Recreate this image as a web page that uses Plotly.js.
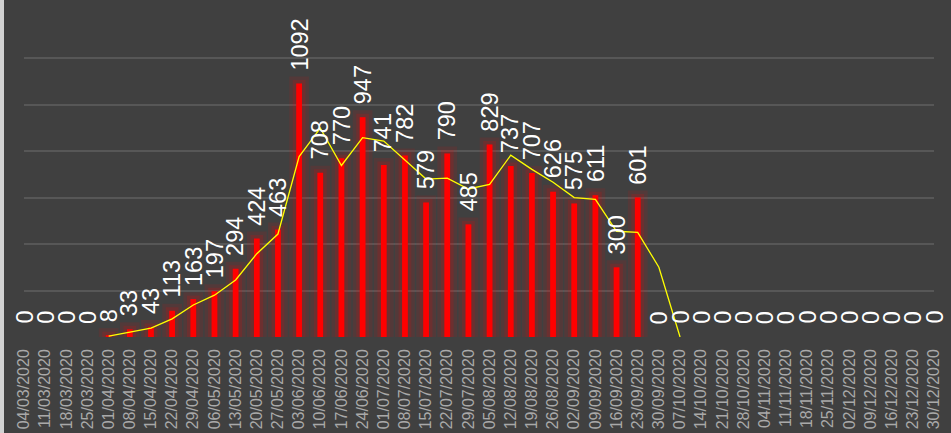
<!DOCTYPE html>
<html>
<head>
<meta charset="utf-8">
<script src="https://cdn.plot.ly/plotly-3.0.1.min.js"></script>
<style>
  html, body { margin: 0; padding: 0; background: #404040; }
  #wrap { position: relative; width: 951px; height: 433px; overflow: hidden; }
  #chart { position: absolute; left: 0; top: 0; width: 951px; height: 433px; }
  #edge { position: absolute; left: 0; top: 0; width: 4px; height: 433px; background: #d2d2d2; }
</style>
</head>
<body>
<div id="wrap"><div id="chart"></div><div id="edge"></div></div>
<script>
// Weekly dates (category labels)
var dates = [
  "04/03/2020","11/03/2020","18/03/2020","25/03/2020","01/04/2020","08/04/2020",
  "15/04/2020","22/04/2020","29/04/2020","06/05/2020","13/05/2020","20/05/2020",
  "27/05/2020","03/06/2020","10/06/2020","17/06/2020","24/06/2020","01/07/2020",
  "08/07/2020","15/07/2020","22/07/2020","29/07/2020","05/08/2020","12/08/2020",
  "19/08/2020","26/08/2020","02/09/2020","09/09/2020","16/09/2020","23/09/2020",
  "30/09/2020","07/10/2020","14/10/2020","21/10/2020","28/10/2020","04/11/2020",
  "11/11/2020","18/11/2020","25/11/2020","02/12/2020","09/12/2020","16/12/2020",
  "23/12/2020","30/12/2020"
];

// Weekly values (bars)
var values = [
  0, 0, 0, 0, 8, 33,
  43, 113, 163, 197, 294, 424,
  463, 1092, 708, 770, 947, 741,
  782, 579, 790, 485, 829, 737,
  707, 626, 575, 611, 300, 601,
  0, 0, 0, 0, 0, 0,
  0, 0, 0, 0, 0, 0,
  0, 0
];

// Trend line (moving average)
var trend = [
  null, null, null, null, 4, 20.5,
  38, 78, 138, 180, 245.5, 359,
  443.5, 777.5, 900, 739, 858.5, 844,
  761.5, 680.5, 684.5, 637.5, 657, 783,
  722, 666.5, 600.5, 593, 455.5, 450.5,
  300.5, 0, null, null, null, null,
  null, null, null, null, null, null,
  null, null
];

var yTicks = [200, 400, 600, 800, 1000, 1200];

var glowVals = values.map(function (v) { return v === 0 ? null : v; });

var traces = [
  {
    type: 'bar', x: dates, y: glowVals, width: 0.27,
    marker: { color: 'rgba(255,0,0,0.10)', line: { color: 'rgba(255,0,0,0.10)', width: 14 } },
    hoverinfo: 'skip', showlegend: false
  },
  {
    type: 'bar', x: dates, y: glowVals, width: 0.27,
    marker: { color: 'rgba(255,0,0,0.15)', line: { color: 'rgba(255,0,0,0.15)', width: 7 } },
    hoverinfo: 'skip', showlegend: false
  },
  {
    type: 'bar', x: dates, y: values, width: 0.27,
    marker: { color: '#ff0000', line: { width: 0 } },
    showlegend: false
  },
  {
    type: 'scatter', mode: 'lines', x: dates, y: trend,
    line: { color: '#ffff00', width: 1.3 },
    connectgaps: false, showlegend: false
  }
];

var annotations = dates.map(function (d, i) {
  return {
    x: d, y: values[i], xref: 'x', yref: 'y',
    text: String(values[i]), showarrow: false,
    textangle: -90, xanchor: 'center', yanchor: 'bottom', yshift: 11,
    font: { family: 'Liberation Sans, Arial, sans-serif', size: 23.5, color: '#ffffff' }
  };
});

var layout = {
  width: 951, height: 433,
  margin: { l: 24, r: 17, t: 11.7, b: 96.3 },
  paper_bgcolor: '#404040', plot_bgcolor: '#404040',
  barmode: 'overlay',
  showlegend: false,
  font: { family: 'Liberation Sans, Arial, sans-serif' },
  xaxis: {
    type: 'category', range: [0, 43],
    tickmode: 'array', tickvals: dates, ticktext: dates,
    tickangle: -90, ticklabelstandoff: 8,
    tickfont: { family: 'Liberation Sans, Arial, sans-serif', size: 16, color: '#a9a9a9' },
    showgrid: false, zeroline: false, showline: false, ticks: ''
  },
  yaxis: {
    range: [0, 1400], tickmode: 'array', tickvals: yTicks,
    showticklabels: false, showgrid: true, gridcolor: '#575757', gridwidth: 2,
    zeroline: false, showline: false, ticks: ''
  },
  annotations: annotations
};

Plotly.newPlot('chart', traces, layout, { staticPlot: true, displayModeBar: false });
</script>
</body>
</html>
